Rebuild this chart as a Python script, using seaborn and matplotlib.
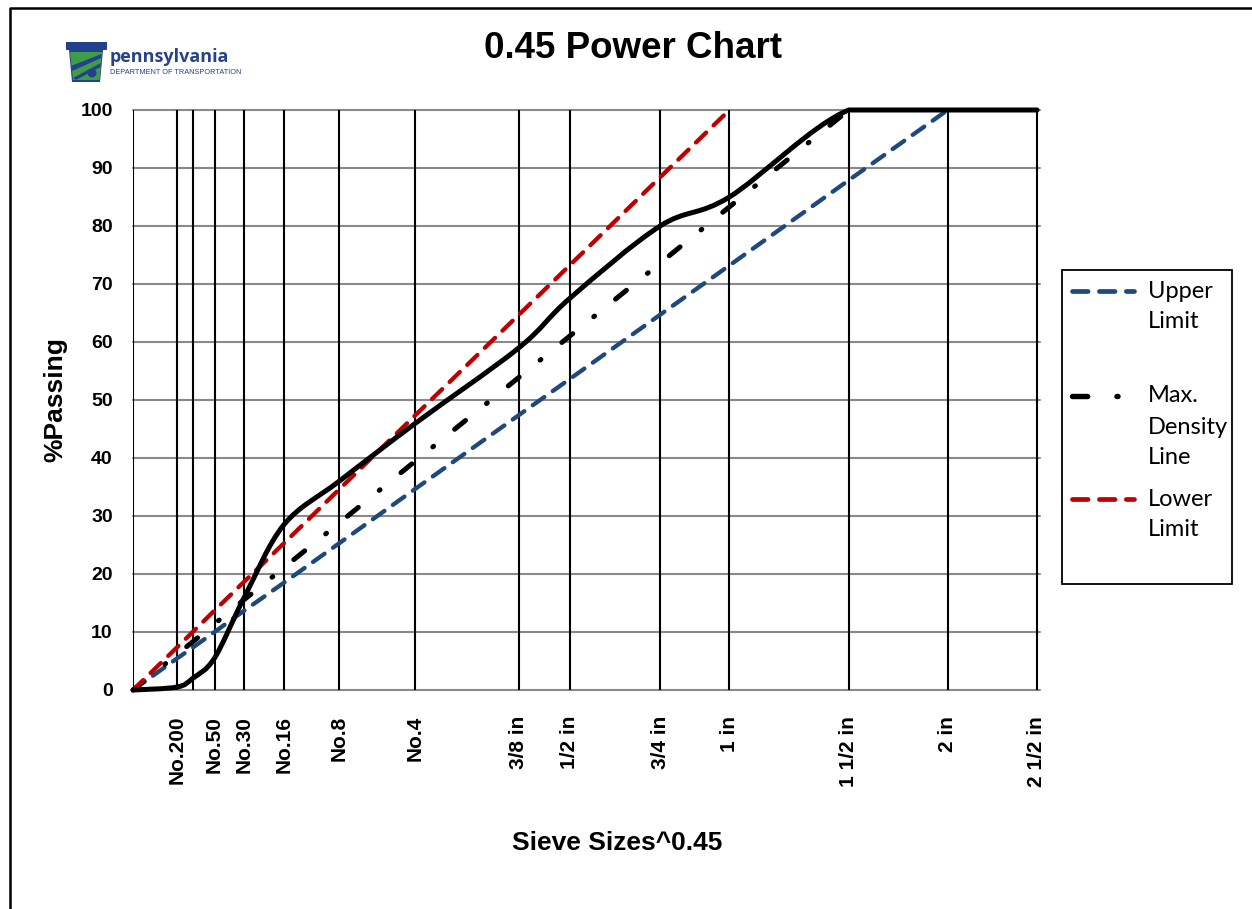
import numpy as np
import pandas as pd
import matplotlib
matplotlib.use("Agg")
import matplotlib.pyplot as plt
import seaborn as sns
from matplotlib.path import Path
from matplotlib.patches import PathPatch, Rectangle, Polygon, Circle
from matplotlib.lines import Line2D
from matplotlib.transforms import Affine2D

# Sieve openings in mm (pan = 0 is prepended below) and their axis labels
sieve_mm = [0.075, 0.15, 0.3, 0.6, 1.18, 2.36, 4.75, 9.5, 12.5, 19.0, 25.0, 37.5, 50.0, 63.0]
sieve_labels = ["No.200", "", "No.50", "No.30", "No.16", "No.8", "No.4",
                "3/8 in", "1/2 in", "3/4 in", "1 in", "1 1/2 in", "2 in", "2 1/2 in"]

# Percent passing, starting at the pan
gradation = [0, 0.5, 2, 5.5, 16, 28.5, 36, 46, 59, 67.5, 80, 85, 100, 100, 100]
upper_limit = [0, 5.4, 7.3, 10.0, 13.7, 18.5, 25.3, 34.7, 47.4, 53.6, 64.7, 73.2, 87.9, 100]
max_density = [0, 6.1, 8.3, 11.4, 15.6, 21.1, 28.8, 39.5, 53.9, 61.0, 73.6, 83.3, 100]
lower_limit = [0, 7.3, 10.0, 13.7, 18.7, 25.3, 34.6, 47.4, 64.7, 73.2, 88.4, 100]

series_names = ["Upper Limit", "Max. Density Line", "Lower Limit"]
series_values = [upper_limit, max_density, lower_limit]
series_colors = {"Upper Limit": "#1F497D", "Max. Density Line": "#000000", "Lower Limit": "#C00000"}
series_dashes = {"Upper Limit": (3.3, 2.4), "Max. Density Line": (2.8, 5.4, 0.2, 5.4),
                 "Lower Limit": (3.3, 2.4)}
series_widths = {"Upper Limit": 3.1, "Max. Density Line": 3.6, "Lower Limit": 3.1}
legend_text = {"Upper Limit": ["Upper", "Limit"],
               "Max. Density Line": ["Max.", "Density", "Line"],
               "Lower Limit": ["Lower", "Limit"]}

POWER = 0.45
size_all = np.array([0.0] + sieve_mm)
x_all = np.power(size_all, POWER)

sns.set_style("white")
plt.rcParams["font.family"] = ["Liberation Sans", "DejaVu Sans"]
plt.rcParams.update({"text.color": "black", "axes.labelcolor": "black",
                     "xtick.color": "black", "ytick.color": "black"})

W, H = 1252, 909
fig = plt.figure(figsize=(W / 100, H / 100), dpi=100)
tpx = Affine2D().scale(1 / W, -1 / H).translate(0, 1) + fig.transFigure

left_px, right_px, top_px, bot_px = 133, 1039.5, 110, 690
ax = fig.add_axes([left_px / W, 1 - bot_px / H, (right_px - left_px) / W, (bot_px - top_px) / H])

# Long-form table of the three reference lines
rows = []
for name, vals in zip(series_names, series_values):
    for xv, yv in zip(x_all[:len(vals)], vals):
        rows.append({"series": name, "sieve_pow": xv, "passing": yv})
df = pd.DataFrame(rows)

sns.lineplot(data=df, x="sieve_pow", y="passing", hue="series", style="series",
             size="series", sizes=series_widths,
             hue_order=series_names, style_order=series_names, size_order=series_names,
             palette=series_colors, dashes=series_dashes, sort=False,
             estimator=None, legend=False, dash_capstyle="round",
             clip_on=False, zorder=3, ax=ax)

# Gradation curve drawn as a smoothed Bezier path through the sieve points;
# control points are kept within each segment's value range to avoid overshoot
pts = np.column_stack([x_all, np.array(gradation, dtype=float)])
verts = [pts[0]]
codes = [Path.MOVETO]
n = len(pts)
for i in range(n - 1):
    p0 = pts[i - 1] if i > 0 else pts[i]
    p1, p2 = pts[i], pts[i + 1]
    p3 = pts[i + 2] if i + 2 < n else pts[i + 1]
    c1 = p1 + (p2 - p0) / 6
    c2 = p2 - (p3 - p1) / 6
    lo, hi = min(p1[1], p2[1]), max(p1[1], p2[1])
    c1[1] = np.clip(c1[1], lo, hi)
    c2[1] = np.clip(c2[1], lo, hi)
    verts += [c1, c2, p2]
    codes += [Path.CURVE4] * 3
ax.add_patch(PathPatch(Path(verts, codes), fill=False, edgecolor="black", lw=3.6,
                       capstyle="round", joinstyle="round", zorder=4, clip_on=False))

# Sieve lines and percent gridlines
for xv in x_all:
    ax.axvline(xv, color="black", lw=1.5, zorder=1)
ax.set_xlim(0, x_all[-1] * (right_px - left_px) / (1037 - left_px))
ax.set_ylim(0, 100)
ax.set_yticks(np.arange(0, 101, 10))
ax.yaxis.grid(True, color="#8a8a8a", lw=1.5)
ax.xaxis.grid(False)
for gl in ax.yaxis.get_gridlines():
    gl.set_clip_on(False)
ax.set_axisbelow(True)
for sp in ax.spines.values():
    sp.set_visible(False)

ax.set_xticks(x_all[1:])
ax.set_xticklabels(sieve_labels, rotation=90, fontsize=15, fontweight="bold")
ax.tick_params(axis="x", length=2.6, width=1.4, color="black", direction="out", pad=16)
ax.tick_params(axis="y", length=0, pad=14.5, labelsize=14)
for lab in ax.get_yticklabels():
    lab.set_fontweight("bold")

ax.set_xlabel("Sieve Sizes^0.45", fontsize=19, fontweight="bold")
ax.xaxis.set_label_coords((617 - left_px) / (right_px - left_px), (bot_px - 843) / (bot_px - top_px))
ax.xaxis.label.set_va("center")
ax.set_ylabel("%Passing", fontsize=19, fontweight="bold")
ax.yaxis.set_label_coords((55 - left_px) / (right_px - left_px), 0.5)
ax.yaxis.label.set_va("center")

# Title
fig.text(632.5, 48, "0.45 Power Chart", transform=tpx, ha="center", va="center",
         fontsize=26.5, fontweight="bold")

# Legend box
fig.add_artist(Rectangle((1062, 270), 170, 314, transform=tpx, fill=False,
                         edgecolor="black", lw=1.3))
handle_y = {"Upper Limit": 291, "Max. Density Line": 396, "Lower Limit": 499}
for name in series_names:
    y0 = handle_y[name]
    x_end = 1142 if name == "Max. Density Line" else 1134
    fig.add_artist(Line2D([1072, x_end], [y0, y0], transform=tpx, color=series_colors[name],
                          lw=series_widths[name] + 0.3, dashes=series_dashes[name],
                          dash_capstyle="round"))
    for k, line in enumerate(legend_text[name]):
        fig.text(1148, y0 + 31 * k, line, transform=tpx, ha="left", va="center",
                 fontsize=17, family=["Lato", "DejaVu Sans"])

# Agency mark
fig.add_artist(Polygon([(66, 42), (107, 42), (107, 50), (103, 50), (100, 82), (72, 82),
                        (69, 50), (66, 50)], closed=True, transform=tpx,
                       facecolor="#24418E", edgecolor="none"))
fig.add_artist(Polygon([(70, 52), (102, 52), (99.5, 80), (73, 80)], closed=True, transform=tpx,
                       facecolor="#3F9C47", edgecolor="none"))
fig.add_artist(Polygon([(71, 66), (101.5, 54), (101.2, 58), (72, 71)], closed=True,
                       transform=tpx, facecolor="#24418E", edgecolor="none"))
fig.add_artist(Polygon([(73, 78), (100.8, 63), (100.5, 67), (76, 80)], closed=True,
                       transform=tpx, facecolor="#24418E", edgecolor="none"))
fig.add_artist(Circle((92, 73), 4.5, transform=tpx, facecolor="#24418E", edgecolor="none"))
fig.text(110, 62, "pennsylvania", transform=tpx, ha="left", va="baseline",
         fontsize=13, fontweight="bold", color="#26418F", family=["Open Sans", "DejaVu Sans"])
fig.text(110, 73, "DEPARTMENT OF TRANSPORTATION", transform=tpx, ha="left", va="center",
         fontsize=5.3, color="#26418F")

# Page frame
fig.add_artist(Line2D([10, 10, W + 5], [H + 5, 8, 8], transform=tpx, color="black", lw=1.8))

fig.savefig("out.png", dpi=100)
